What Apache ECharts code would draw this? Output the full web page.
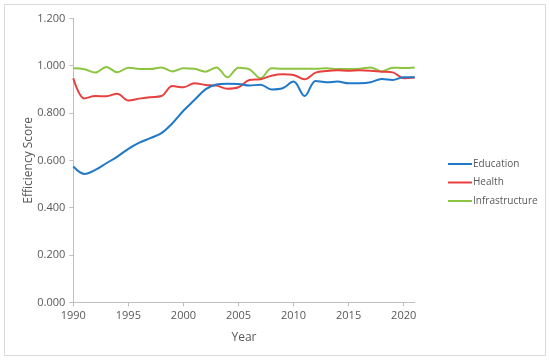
<!DOCTYPE html>
<html>
<head>
<meta charset="utf-8">
<script src="https://cdn.jsdelivr.net/npm/echarts@6/dist/echarts.min.js"></script>
<style>
html,body{margin:0;padding:0;background:#fff;}
#chart{width:550px;height:362px;}
</style>
</head>
<body>
<div id="chart"></div>
<script>
const years = [1990,1991,1992,1993,1994,1995,1996,1997,1998,1999,2000,2001,2002,2003,2004,2005,2006,2007,2008,2009,2010,2011,2012,2013,2014,2015,2016,2017,2018,2019,2020,2021];
const education = [0.574,0.543,0.560,0.588,0.616,0.649,0.675,0.694,0.715,0.757,0.810,0.855,0.900,0.921,0.924,0.923,0.916,0.920,0.900,0.905,0.933,0.872,0.936,0.930,0.933,0.926,0.926,0.930,0.944,0.940,0.951,0.951];
const health = [0.947,0.862,0.872,0.871,0.882,0.853,0.861,0.867,0.872,0.914,0.909,0.926,0.919,0.916,0.903,0.909,0.940,0.943,0.958,0.964,0.961,0.943,0.971,0.978,0.981,0.979,0.981,0.979,0.975,0.972,0.947,0.950];
const infrastructure = [0.989,0.985,0.971,0.995,0.972,0.992,0.986,0.986,0.993,0.976,0.989,0.987,0.975,0.993,0.951,0.992,0.985,0.947,0.989,0.987,0.987,0.987,0.987,0.989,0.986,0.986,0.987,0.993,0.976,0.992,0.990,0.993];
const seriesNames = ['Education','Health','Infrastructure'];
const colors = ['#1f78c8','#e8403f','#8cc540'];

const font = '"Open Sans", sans-serif';
const txt = '#595959';
const chart = echarts.init(document.getElementById('chart'), null, {renderer:'canvas'});
const toPairs = arr => years.map((y,i)=>[y,arr[i]]);
const data = [education, health, infrastructure];
chart.setOption({
  animation:false,
  graphic:[{type:'rect',shape:{x:4.5,y:4.5,width:541,height:351},style:{fill:'none',stroke:'#d9d9d9',lineWidth:1},silent:true}],
  grid:{left:73.3,right:135.3,top:18.4,bottom:59.6},
  legend:{
    orient:'vertical', left:443, top:154, itemGap:8.5,
    itemWidth:24, itemHeight:2, icon:'rect',
    textStyle:{fontFamily:font,fontSize:10,color:txt,padding:[0,0,0,-4]},
    data:seriesNames
  },
  xAxis:{
    type:'value', min:1990, max:2021, interval:5,
    name:'Year', nameLocation:'middle', nameGap:29, nameMoveOverlap:false,
    nameTextStyle:{fontFamily:font,fontSize:12,color:txt},
    axisLine:{lineStyle:{color:'#bfbfbf',width:1}},
    axisTick:{show:true,length:4,lineStyle:{color:'#bfbfbf'}},
    axisLabel:{fontFamily:font,fontSize:11,color:txt,margin:8,showMaxLabel:false,formatter:v=>String(v)},
    splitLine:{show:false}
  },
  yAxis:{
    type:'value', min:0, max:1.2, interval:0.2,
    name:'Efficiency Score', nameLocation:'middle', nameGap:39, nameMoveOverlap:false,
    nameTextStyle:{fontFamily:font,fontSize:12,color:txt},
    axisLine:{show:true,lineStyle:{color:'#bfbfbf',width:1}},
    axisTick:{show:true,length:4,lineStyle:{color:'#bfbfbf'}},
    axisLabel:{fontFamily:font,fontSize:11,color:txt,margin:8,formatter:v=>v.toFixed(3)},
    splitLine:{show:false}
  },
  series: seriesNames.map((n,i)=>({
    name:n, type:'line', data:toPairs(data[i]), smooth:0.35, showSymbol:false, symbol:'none',
    lineStyle:{color:colors[i],width:2}, itemStyle:{color:colors[i]}, z: 3-i
  }))
});
</script>
</body>
</html>
